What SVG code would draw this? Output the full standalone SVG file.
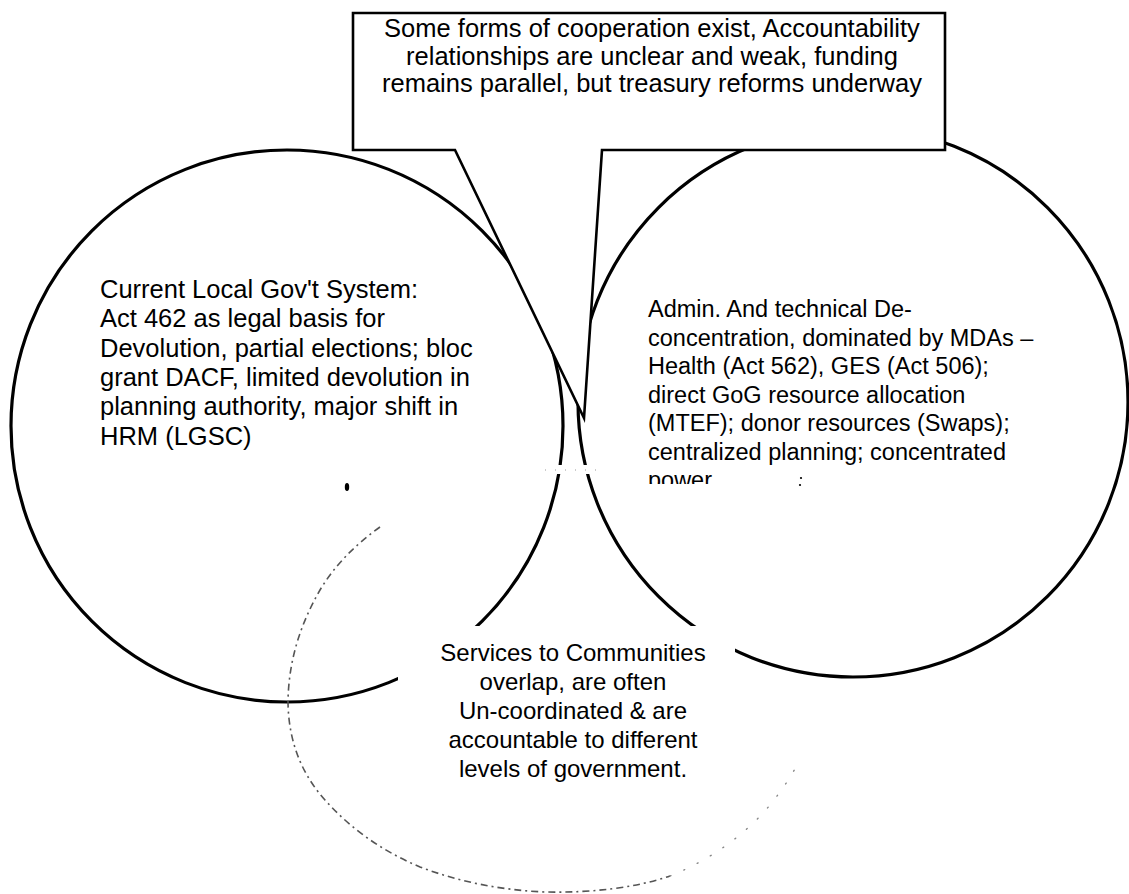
<svg xmlns="http://www.w3.org/2000/svg" width="1129" height="894" viewBox="0 0 1129 894">
  <defs>
    <style>
      .ring { fill: none; stroke: #000; stroke-width: 3.2; }
      .faint { fill: none; stroke: #555; stroke-width: 1.6; stroke-dasharray: 7 4 2 4; }
      .dots { fill: none; stroke: #888; stroke-width: 1.4; stroke-dasharray: 1 14; stroke-linecap: round; }
      .lbl { font-family: "Liberation Sans", Arial, sans-serif; fill: #000; }
      .big { font-size: 25.5px; }
      .med { font-size: 23.5px; }
      .bot { font-size: 24px; }
      .mid { text-anchor: middle; }
    </style>
    <clipPath id="cutPower">
      <rect x="600" y="400" width="400" height="84"/>
    </clipPath>
  </defs>
  <rect width="1129" height="894" fill="#fff"/>

  <g id="left-circle">
    <circle class="ring" cx="287" cy="426" r="276"/>
  </g>

  <g id="right-circle">
    <circle class="ring" cx="853" cy="402" r="275"/>
  </g>

  <g id="bottom-circle">
    <path class="faint" d="M380,527 C355,545 335,565 320,590 C300,625 289,660 288,700 C288,735 298,770 325,800 C350,828 380,850 420,867 C460,882 500,890 545,892 C590,893 635,888 670,876"/>
    <path class="dots" d="M670,876 C710,860 745,835 770,805 C782,790 790,778 796,767"/>
  </g>

  <rect x="398" y="626" width="337" height="170" fill="#fff"/>
  <rect x="540" y="465" width="70" height="9" fill="#fff"/>
  <line x1="545" y1="470" x2="604" y2="470" stroke="#999" stroke-width="1.2" stroke-dasharray="1 9"/>

  <g id="callout">
    <path d="M353,13 H945 V150 H602 L584,418 L455,150 H353 Z" fill="#fff" stroke="#000" stroke-width="2.6" stroke-linejoin="miter"/>
    <text class="lbl big mid" x="652" y="37">Some forms of cooperation exist, Accountability</text>
    <text class="lbl big mid" x="652" y="65">relationships are unclear and weak, funding</text>
    <text class="lbl big mid" x="652" y="92">remains parallel, but treasury reforms underway</text>
  </g>

  <g id="left-label">
    <text class="lbl big" x="100" y="298">Current Local Gov't System:</text>
    <text class="lbl big" x="100" y="327.3">Act 462 as legal basis for</text>
    <text class="lbl big" x="100" y="356.6">Devolution, partial elections; bloc</text>
    <text class="lbl big" x="100" y="385.9">grant DACF, limited devolution in</text>
    <text class="lbl big" x="100" y="415.2">planning authority, major shift in</text>
    <text class="lbl big" x="100" y="444.5">HRM (LGSC)</text>
  </g>

  <g id="right-label">
    <text class="lbl med" x="648" y="317">Admin. And technical De-</text>
    <text class="lbl med" x="648" y="345.5">concentration, dominated by MDAs –</text>
    <text class="lbl med" x="648" y="374">Health (Act 562), GES (Act 506);</text>
    <text class="lbl med" x="648" y="402.5">direct GoG resource allocation</text>
    <text class="lbl med" x="648" y="431">(MTEF); donor resources (Swaps);</text>
    <text class="lbl med" x="648" y="459.5">centralized planning; concentrated</text>
    <text class="lbl med" x="648" y="488" clip-path="url(#cutPower)">power</text>
  </g>

  <g id="bottom-label">
    <text class="lbl bot mid" x="573" y="661">Services to Communities</text>
    <text class="lbl bot mid" x="573" y="690">overlap, are often</text>
    <text class="lbl bot mid" x="573" y="719">Un-coordinated &amp; are</text>
    <text class="lbl bot mid" x="573" y="748">accountable to different</text>
    <text class="lbl bot mid" x="573" y="777">levels of government.</text>
  </g>

  <g id="marks" fill="#000">
    <ellipse cx="347" cy="487" rx="2.2" ry="4"/>
    <circle cx="801" cy="478" r="1.1"/>
    <circle cx="800" cy="485" r="1.1"/>
  </g>
</svg>
